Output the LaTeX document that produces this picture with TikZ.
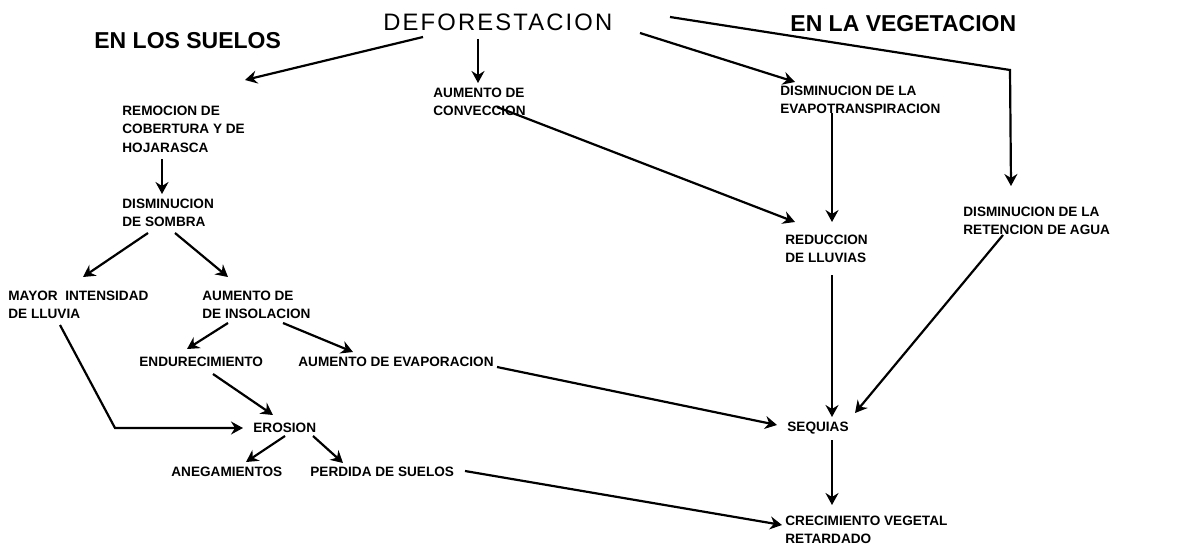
\documentclass[tikz,border=0pt]{standalone}
\usepackage{fontspec}
\usepackage{tikz}
\usetikzlibrary{arrows.meta}
\setmainfont{Liberation Sans}
\newfontfamily\titlefont[LetterSpace=9]{Liberation Sans}
\newcommand{\boxfnt}{\bfseries\fontsize{6.8}{9.2}\selectfont}
\newcommand{\headfnt}{\bfseries\fontsize{11.5}{13}\selectfont}

\begin{document}
\begin{tikzpicture}[x=0.5pt, y=-0.5pt,
    box/.style={anchor=west, inner sep=0pt, align=left, font=\boxfnt},
    head/.style={anchor=west, inner sep=0pt, font=\headfnt},
    flow/.style={line width=1.1pt, -{Stealth[length=6pt, width=6.5pt, inset=2pt]}}]
            \useasboundingbox (0,0) rectangle (1202,551);

            %Nodes
            \node[anchor=west, inner sep=0pt, font=\titlefont\fontsize{11.9}{13}\selectfont] at (383,22) (defo) {DEFORESTACION};
            \node[head] at (94,41) (suelos) {EN LOS SUELOS};
            \node[head] at (790,24) (veget) {EN LA VEGETACION};

            \node[box] at (122,129) (remocion) {REMOCION DE\\COBERTURA Y DE\\HOJARASCA};
            \node[box] at (122,213) (sombra) {DISMINUCION\\DE SOMBRA};
            \node[box] at (433,102) (conveccion) {AUMENTO DE\\CONVECCION};
            \node[box] at (780,100) (evapo) {DISMINUCION DE LA\\EVAPOTRANSPIRACION};
            \node[box] at (963,221) (retencion) {DISMINUCION DE LA\\RETENCION DE AGUA};
            \node[box] at (785,249) (reduccion) {REDUCCION\\DE LLUVIAS};
            \node[box] at (8,305) (mayor) {MAYOR\ \ INTENSIDAD\\DE LLUVIA};
            \node[box] at (202,305) (insol) {AUMENTO DE\\DE INSOLACION};
            \node[box] at (139,362) (endurec) {ENDURECIMIENTO};
            \node[box] at (298,362) (evapora) {AUMENTO DE EVAPORACION};
            \node[box] at (253,428) (erosion) {EROSION};
            \node[box] at (171,472) (anega) {ANEGAMIENTOS};
            \node[box] at (310,472) (perdida) {PERDIDA DE SUELOS};
            \node[box] at (787,428) (sequias) {SEQUIAS};
            \node[box] at (785,530) (crec) {CRECIMIENTO VEGETAL\\RETARDADO};

            %Lines
            \draw[flow] ([shift={(40,15)}]defo.west) -- ([shift={(123,-49)}]remocion.west);
            \draw[flow] ([shift={(95,17)}]defo.west) -- ([shift={(45,-19)}]conveccion.west);
            \draw[flow] ([shift={(257,11)}]defo.west) -- ([shift={(15,-18)}]evapo.west);
            \draw[flow] ([shift={(287,-5)}]defo.west) -- ([shift={(47,-151)}]retencion.west) -- ([shift={(48,-35)}]retencion.west);

            \draw[flow] ([shift={(40,30)}]remocion.west) -- ([shift={(40,-19)}]sombra.west);
            \draw[flow] ([shift={(26,20)}]sombra.west) -- ([shift={(75,-28)}]mayor.west);
            \draw[flow] ([shift={(53,20)}]sombra.west) -- ([shift={(26,-28)}]insol.west);
            \draw[flow] ([shift={(26,18)}]insol.west) -- ([shift={(48,-13)}]endurec.west);
            \draw[flow] ([shift={(81,18)}]insol.west) -- ([shift={(55,-10)}]evapora.west);
            \draw[flow] ([shift={(74,12)}]endurec.west) -- ([shift={(20,-13)}]erosion.west);
            \draw[flow] ([shift={(52,20)}]mayor.west) -- ([shift={(-138,0)}]erosion.west) -- ([shift={(-10,0)}]erosion.west);
            \draw[flow] ([shift={(32,8)}]erosion.west) -- ([shift={(75,-10)}]anega.west);
            \draw[flow] ([shift={(60,8)}]erosion.west) -- ([shift={(33,-9)}]perdida.west);

            \draw[flow] ([shift={(64,5)}]conveccion.west) -- ([shift={(10,-27)}]reduccion.west);
            \draw[flow] ([shift={(52,13)}]evapo.west) -- ([shift={(47,-27)}]reduccion.west);
            \draw[flow] ([shift={(47,26)}]reduccion.west) -- ([shift={(45,-11)}]sequias.west);
            \draw[flow] ([shift={(40,14)}]retencion.west) -- ([shift={(68,-15)}]sequias.west);
            \draw[flow] ([shift={(199,5)}]evapora.west) -- ([shift={(-10,-3)}]sequias.west);
            \draw[flow] ([shift={(45,12)}]sequias.west) -- ([shift={(47,-25)}]crec.west);
            \draw[flow] ([shift={(155,-1)}]perdida.west) -- ([shift={(-3,-5)}]crec.west);
        \end{tikzpicture}
\end{document}
